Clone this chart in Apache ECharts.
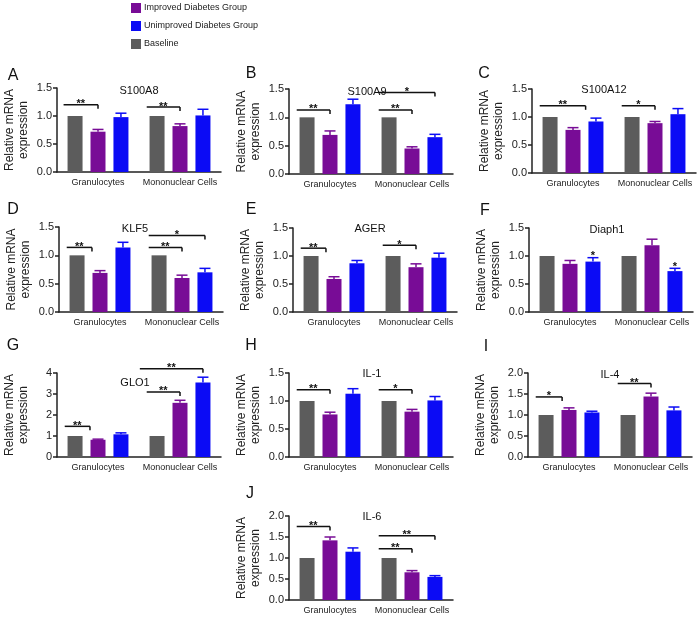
<!DOCTYPE html>
<html><head><meta charset="utf-8">
<script src="https://cdn.jsdelivr.net/npm/echarts@6/dist/echarts.min.js"></script>
<style>html,body{margin:0;padding:0;background:#fff}#c{width:700px;height:623px}</style>
</head><body><div id="c"></div>
<script>
// ---------- DATA ----------
const genes = ['S100A8','S100A9','S100A12','KLF5','AGER','Diaph1','GLO1','IL-1','IL-4','IL-6'];
const panelLetters = ['A','B','C','D','E','F','G','H','I','J'];
const categories = ['Granulocytes','Mononuclear Cells'];
const seriesNames = ['Baseline','Improved Diabetes Group','Unimproved Diabetes Group'];
const legendOrder = ['Improved Diabetes Group','Unimproved Diabetes Group','Baseline'];
const baseline = [[1,1],[1,1],[1,1],[1,1],[1,1],[1,1],[1,1],[1,1],[1,1],[1,1]];
const improved = [[0.72,0.82],[0.69,0.45],[0.77,0.89],[0.69,0.60],[0.59,0.80],[0.86,1.19],[0.82,2.58],[0.76,0.81],[1.12,1.44],[1.42,0.66]];
const improvedErr = [[0.04,0.04],[0.07,0.03],[0.04,0.03],[0.04,0.05],[0.04,0.06],[0.06,0.11],[0.03,0.12],[0.04,0.04],[0.05,0.08],[0.08,0.04]];
const unimproved = [[0.98,1.01],[1.23,0.65],[0.92,1.05],[1.14,0.70],[0.87,0.97],[0.90,0.73],[1.08,3.55],[1.13,1.01],[1.06,1.11],[1.15,0.55]];
const unimprovedErr = [[0.07,0.11],[0.09,0.05],[0.06,0.10],[0.09,0.07],[0.05,0.08],[0.07,0.05],[0.07,0.25],[0.09,0.07],[0.03,0.08],[0.09,0.03]];
const yMax = [1.5,1.5,1.5,1.5,1.5,1.5,4,1.5,2,2];
const yInterval = [0.5,0.5,0.5,0.5,0.5,0.5,1,0.5,0.5,0.5];
// significance brackets: [panel, category, fromSlot, toSlot, yValue, label]
const brackets = [
  [0,0,-0.5,1,1.2,'**'],[0,1,-0.45,1,1.16,'**'],
  [1,0,-0.45,1,1.13,'**'],[1,1,-0.45,1,1.13,'**'],[1,1,-0.45,2,1.44,'*'],
  [2,0,-0.45,1.55,1.2,'**'],[2,1,-0.45,1,1.2,'*'],
  [3,0,-0.45,0.65,1.14,'**'],[3,1,-0.45,1,1.14,'**'],[3,1,-0.45,2,1.35,'*'],
  [4,0,-0.45,0.65,1.14,'**'],[4,1,-0.45,1,1.19,'*'],
  [6,0,-0.45,0.65,1.46,'**'],[6,1,-0.45,1,3.1,'**'],[6,1,-0.75,2,4.2,'**'],
  [7,0,-0.45,1,1.2,'**'],[7,1,-0.45,1,1.2,'*'],
  [8,0,-0.45,0.7,1.43,'*'],[8,1,-0.45,1,1.75,'**'],
  [9,0,-0.45,1,1.75,'**'],[9,1,-0.45,1,1.22,'**'],[9,1,-0.45,2,1.53,'**']
];
// single stars: [panel, category, slot, yValue, label]
const stars = [[5,0,2,1.0,'*'],[5,1,2,0.8,'*']];

// ---------- LAYOUT / STYLE ----------
const colors = ['#5c5c5c','#780c96','#0b0bf5'];
const FONT = 'Arial, "Liberation Sans", sans-serif';
const layout = [ // [left, top, height]
  [57,88,84],[289,89,85],[532,89,84],
  [59,227,85],[293,228,84],[529,228,84],
  [57,373,84],[289,373,84],[528,373,84],
  [289,516,84]
];
const GRID_W = 164;
const BAR_W = 15, GAP = 0.53;
const SLOT = BAR_W * (1 + GAP);
const titlePos = [[139,91],[367,92],[604,90],[135,229],[370,229],[607,230],[135,383],[372,374],[610,375],[372,517]];
const letterPos = [[13,76],[251,74],[484,74],[13,210],[251,210],[485,211],[13,346],[251,346],[486,347],[250,494]];

const grids = [], xAxes = [], yAxes = [], series = [], graphics = [];
for (let p = 0; p < genes.length; p++) {
  const [l, t, h] = layout[p];
  grids.push({left: l, top: t, width: GRID_W, height: h});
  xAxes.push({
    type: 'category', gridIndex: p, data: categories,
    axisLine: {lineStyle: {color: '#222', width: 1.5}},
    axisTick: {alignWithLabel: true, length: 4, lineStyle: {color: '#222', width: 1.5}},
    axisLabel: {interval: 0, fontSize: 9, color: '#222', fontFamily: FONT, margin: 6, hideOverlap: false}
  });
  yAxes.push({
    type: 'value', gridIndex: p, min: 0, max: yMax[p], interval: yInterval[p],
    name: 'Relative mRNA\nexpression', nameLocation: 'middle', nameGap: 26,
    nameTextStyle: {fontSize: 12, color: '#222', fontFamily: FONT, lineHeight: 14},
    axisLine: {show: true, lineStyle: {color: '#222', width: 1.5}},
    axisTick: {show: true, length: 4, lineStyle: {color: '#222', width: 1.5}},
    splitLine: {show: false},
    axisLabel: {fontSize: 11, color: '#222', fontFamily: FONT, margin: 5,
      formatter: v => yInterval[p] < 1 ? v.toFixed(1) : String(v)}
  });
  const vals = [baseline[p], improved[p], unimproved[p]];
  for (let s = 0; s < 3; s++) {
    series.push({
      type: 'bar', name: seriesNames[s], xAxisIndex: p, yAxisIndex: p,
      data: vals[s], barWidth: BAR_W, barGap: (GAP*100)+'%',
      itemStyle: {color: colors[s]}, silent: true
    });
  }
  // error bars
  const errData = [];
  for (let c = 0; c < 2; c++) {
    errData.push([c, 1, improved[p][c], improvedErr[p][c]]);
    errData.push([c, 2, unimproved[p][c], unimprovedErr[p][c]]);
  }
  series.push({
    type: 'custom', xAxisIndex: p, yAxisIndex: p, data: errData, silent: true, clip: false, z: 3,
    renderItem: (params, api) => {
      const c = api.value(0), slot = api.value(1), v = api.value(2), e = api.value(3);
      const b = api.coord([c, v]), tp = api.coord([c, v + e]);
      const x = b[0] + (slot - 1) * SLOT;
      const st = {stroke: colors[slot], lineWidth: 1.5};
      return {type: 'group', children: [
        {type: 'line', shape: {x1: x, y1: b[1], x2: x, y2: tp[1]}, style: st},
        {type: 'line', shape: {x1: x - 5.5, y1: tp[1], x2: x + 5.5, y2: tp[1]}, style: st}
      ]};
    }
  });
  // brackets
  const br = brackets.filter(b => b[0] === p);
  if (br.length) {
    series.push({
      type: 'custom', xAxisIndex: p, yAxisIndex: p, silent: true, clip: false, z: 4,
      data: br.map(b => [b[1], b[4], b[2], b[3]]),
      renderItem: (params, api) => {
        const c = api.value(0), y = api.value(1), f = api.value(2), to = api.value(3);
        const pt = api.coord([c, y]);
        const x1 = pt[0] + (f - 1) * SLOT, x2 = pt[0] + (to - 1) * SLOT;
        const st = {stroke: '#111', lineWidth: 1.5};
        return {type: 'group', children: [
          {type: 'line', shape: {x1: x1, y1: pt[1], x2: x2, y2: pt[1]}, style: st},
          {type: 'line', shape: {x1: x2, y1: pt[1], x2: x2, y2: pt[1] + 4}, style: st},
          {type: 'text', style: {text: br[params.dataIndex][5], x: (x1 + x2) / 2, y: pt[1] + 5,
            align: 'center', verticalAlign: 'bottom', font: 'bold 11px ' + FONT, fill: '#111'}}
        ]};
      }
    });
  }
  const sr = stars.filter(s => s[0] === p);
  if (sr.length) {
    series.push({
      type: 'custom', xAxisIndex: p, yAxisIndex: p, silent: true, clip: false, z: 4,
      data: sr.map(s => [s[1], s[3], s[2]]),
      renderItem: (params, api) => {
        const pt = api.coord([api.value(0), api.value(1)]);
        const x = pt[0] + (api.value(2) - 1) * SLOT;
        return {type: 'text', style: {text: sr[params.dataIndex][4], x: x, y: pt[1] + 5,
          align: 'center', verticalAlign: 'bottom', font: 'bold 11px ' + FONT, fill: '#111'}};
      }
    });
  }
  graphics.push({type: 'text', x: titlePos[p][0], y: titlePos[p][1],
    style: {text: genes[p], align: 'center', verticalAlign: 'middle', font: '11px ' + FONT, fill: '#111'}});
  graphics.push({type: 'text', x: letterPos[p][0], y: letterPos[p][1],
    style: {text: panelLetters[p], align: 'center', verticalAlign: 'middle', font: '16px ' + FONT, fill: '#111'}});
}

const chart = echarts.init(document.getElementById('c'));
chart.setOption({
  animation: false,
  backgroundColor: '#fff',
  legend: {
    data: legendOrder, orient: 'vertical', left: 131, top: 3, padding: 0,
    itemWidth: 10, itemHeight: 10, itemGap: 8, icon: 'rect',
    textStyle: {fontSize: 9, color: '#222', fontFamily: FONT, padding: [0, 0, 0, -2]}
  },
  grid: grids, xAxis: xAxes, yAxis: yAxes, series: series, graphic: graphics
});
</script></body></html>
